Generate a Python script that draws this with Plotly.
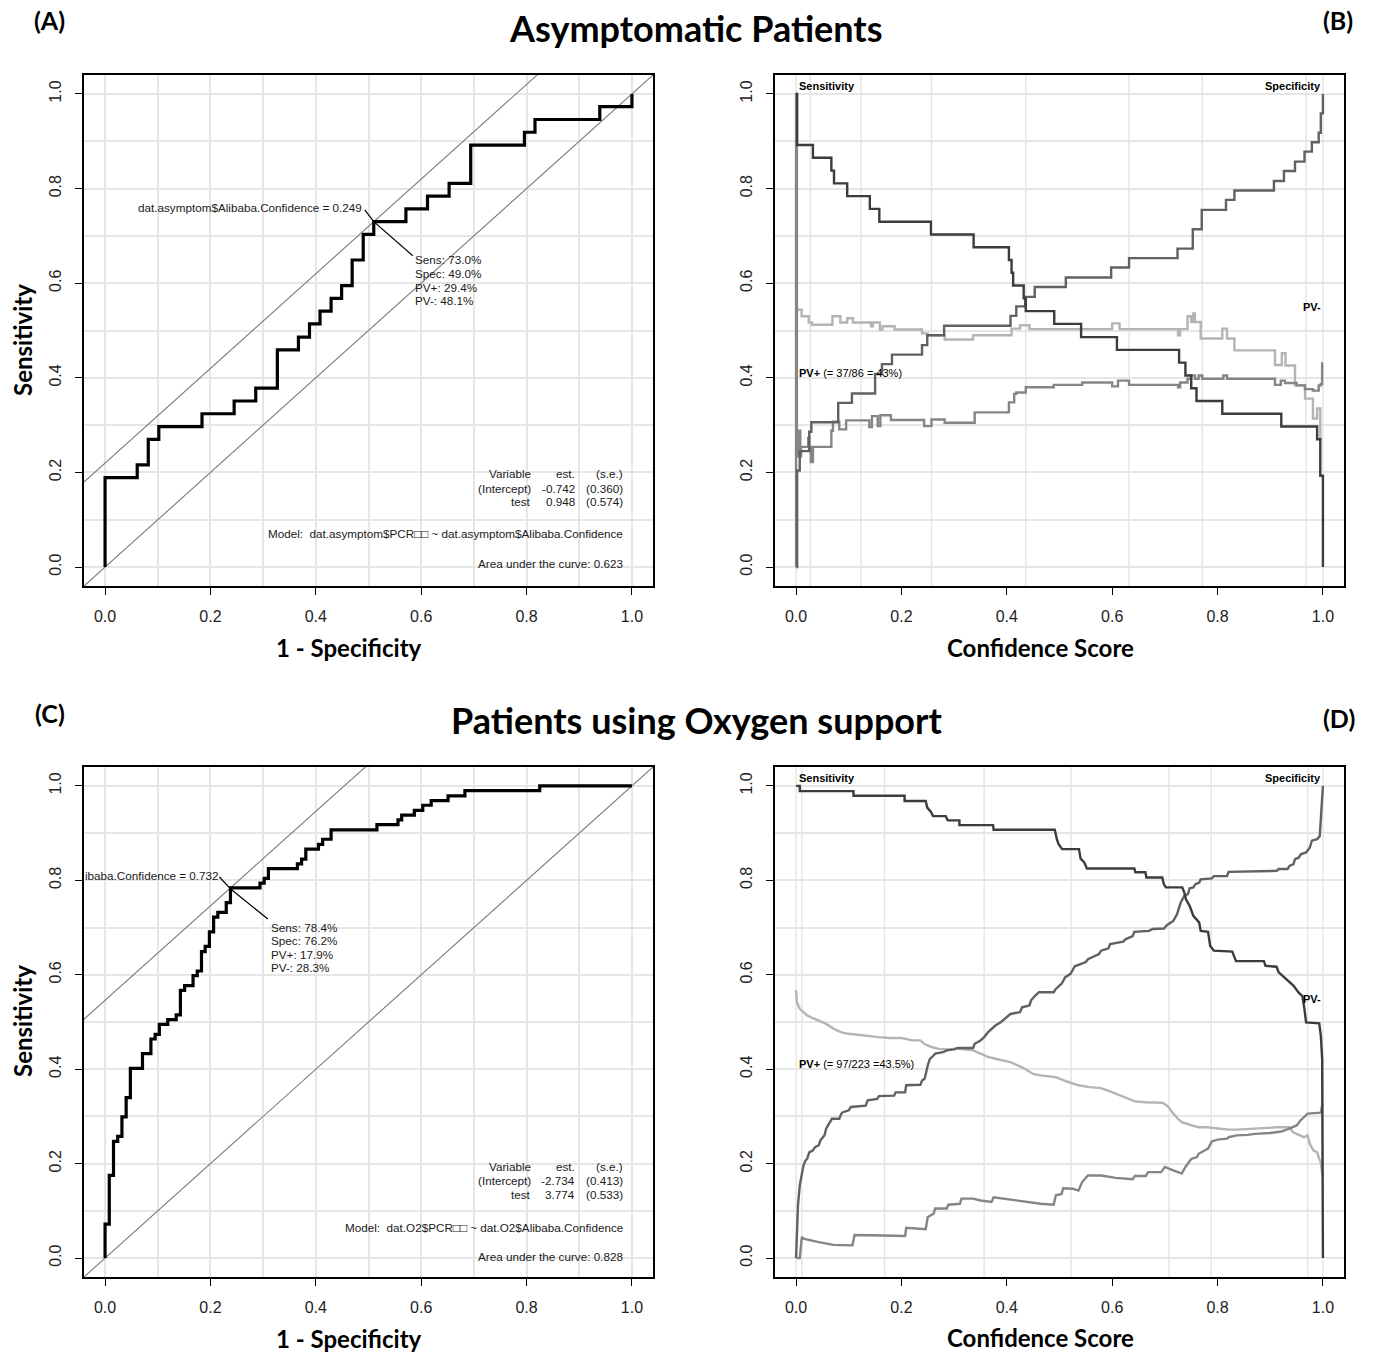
import plotly.graph_objects as go

W, H = 1374, 1354

# ---------------- data ----------------
# Panel A: ROC (1 - specificity, sensitivity), step vertices
roc_a_fpr = [0.000, 0.000, 0.061, 0.082, 0.102, 0.184, 0.245, 0.286, 0.327, 0.367, 0.388, 0.408, 0.429,
             0.449, 0.469, 0.490, 0.510, 0.571, 0.612, 0.653, 0.694, 0.796, 0.816, 0.939, 1.000]
roc_a_sens = [0.000, 0.189, 0.216, 0.270, 0.297, 0.324, 0.351, 0.378, 0.459, 0.486, 0.514, 0.541, 0.568,
              0.595, 0.649, 0.703, 0.730, 0.757, 0.784, 0.811, 0.892, 0.919, 0.946, 0.973, 1.000]
diag_a = [0.0, 0.22]
leader_a_x = [0.493, 0.510, 0.584]
leader_a_y = [0.755, 0.730, 0.658]

# Panel C: ROC
roc_c_fpr = [0.000, 0.000, 0.008, 0.008, 0.016, 0.024, 0.032, 0.040, 0.048, 0.071, 0.087, 0.095, 0.103,
             0.119, 0.135, 0.143, 0.151, 0.167, 0.175, 0.183, 0.190, 0.198, 0.206, 0.214, 0.230, 0.238,
             0.294, 0.302, 0.310, 0.365, 0.373, 0.381, 0.405, 0.413, 0.429, 0.516, 0.556, 0.563, 0.587,
             0.603, 0.619, 0.651, 0.683, 0.825, 1.000]
roc_c_sens = [0.000, 0.072, 0.093, 0.175, 0.247, 0.258, 0.299, 0.340, 0.402, 0.433, 0.464, 0.474, 0.495,
              0.505, 0.515, 0.567, 0.577, 0.598, 0.608, 0.649, 0.660, 0.691, 0.722, 0.732, 0.753, 0.784,
              0.794, 0.804, 0.825, 0.835, 0.845, 0.866, 0.876, 0.887, 0.907, 0.918, 0.928, 0.938, 0.948,
              0.959, 0.969, 0.979, 0.990, 1.000, 1.000]
diag_c = [0.0, 0.546]
leader_c_x = [0.217, 0.239, 0.309]
leader_c_y = [0.807, 0.781, 0.718]

# Panel B: curves vs confidence score (step: level starts)
sens_b_x = [0.000, 0.002, 0.032, 0.067, 0.072, 0.097, 0.140, 0.158, 0.256, 0.337, 0.404, 0.409, 0.412,
            0.432, 0.436, 0.490, 0.541, 0.609, 0.727, 0.739, 0.750, 0.760, 0.809, 0.921, 0.989, 0.995, 1.000]
sens_b_y = [1.000, 0.892, 0.865, 0.838, 0.811, 0.784, 0.757, 0.730, 0.703, 0.676, 0.649, 0.622, 0.595,
            0.568, 0.541, 0.514, 0.486, 0.459, 0.432, 0.405, 0.378, 0.351, 0.324, 0.297, 0.270, 0.193, 0.000]
spec_b_x = [0.000, 0.002, 0.007, 0.025, 0.029, 0.080, 0.106, 0.150, 0.163, 0.182, 0.239, 0.249, 0.281,
            0.407, 0.418, 0.435, 0.453, 0.512, 0.598, 0.632, 0.724, 0.753, 0.770, 0.816, 0.832, 0.907,
            0.926, 0.947, 0.965, 0.979, 0.992, 0.996, 1.000]
spec_b_y = [0.000, 0.204, 0.245, 0.286, 0.306, 0.347, 0.367, 0.408, 0.429, 0.449, 0.469, 0.490, 0.510,
            0.531, 0.551, 0.571, 0.592, 0.612, 0.633, 0.653, 0.673, 0.714, 0.755, 0.776, 0.796, 0.816,
            0.837, 0.857, 0.878, 0.898, 0.918, 0.959, 1.000]
pvp_b_x = [0.000, 0.000, 0.0015, 0.004, 0.006, 0.008, 0.0095, 0.023, 0.025, 0.028, 0.032, 0.067, 0.070,
           0.082, 0.095, 0.139, 0.144, 0.155, 0.160, 0.180, 0.243, 0.257, 0.282, 0.339, 0.404, 0.414,
           0.418, 0.436, 0.489, 0.543, 0.600, 0.611, 0.632, 0.725, 0.729, 0.743, 0.750, 0.757, 0.764,
           0.771, 0.811, 0.818, 0.909, 0.920, 0.928, 0.950, 0.966, 0.981, 0.992, 0.996, 0.9985]
pvp_b_y = [0.000, 1.000, 0.288, 0.234, 0.288, 0.234, 0.254, 0.273, 0.254, 0.222, 0.254, 0.288, 0.307,
           0.291, 0.310, 0.296, 0.319, 0.298, 0.321, 0.311, 0.298, 0.312, 0.305, 0.327, 0.348, 0.366,
           0.369, 0.380, 0.385, 0.390, 0.382, 0.394, 0.385, 0.380, 0.390, 0.398, 0.405, 0.398, 0.405,
           0.398, 0.405, 0.398, 0.385, 0.394, 0.389, 0.384, 0.376, 0.373, 0.384, 0.387, 0.433]
pvn_b_x = [0.0015, 0.0105, 0.024, 0.030, 0.069, 0.084, 0.097, 0.108, 0.142, 0.146, 0.159, 0.164, 0.187,
           0.239, 0.250, 0.282, 0.336, 0.409, 0.425, 0.443, 0.600, 0.614, 0.725, 0.729, 0.743, 0.750,
           0.754, 0.757, 0.768, 0.809, 0.818, 0.832, 0.909, 0.922, 0.929, 0.947, 0.966, 0.981, 0.989,
           0.995, 0.998]
pvn_b_y = [0.544, 0.530, 0.517, 0.512, 0.530, 0.517, 0.526, 0.517, 0.509, 0.517, 0.502, 0.509, 0.502,
           0.494, 0.490, 0.481, 0.490, 0.504, 0.511, 0.503, 0.515, 0.503, 0.490, 0.503, 0.530, 0.518,
           0.536, 0.518, 0.483, 0.504, 0.483, 0.458, 0.427, 0.452, 0.426, 0.384, 0.356, 0.314, 0.335,
           0.271, 0.271]
grid_b_x = [0.0, 0.027, 0.123, 0.257, 0.436, 0.632, 0.771, 0.968, 1.0]

# Panel D: curves vs confidence score (polyline vertices)
sens_d_x = [0.000, 0.007, 0.007, 0.109, 0.109, 0.206, 0.206, 0.246, 0.249, 0.256, 0.260, 0.284, 0.288,
            0.310, 0.310, 0.374, 0.375, 0.491, 0.495, 0.498, 0.505, 0.537, 0.540, 0.547, 0.552, 0.642,
            0.644, 0.663, 0.665, 0.695, 0.698, 0.702, 0.733, 0.737, 0.740, 0.747, 0.754, 0.765, 0.768,
            0.782, 0.786, 0.793, 0.828, 0.835, 0.888, 0.891, 0.912, 0.916, 0.923, 0.930, 0.937, 0.944,
            0.954, 0.961, 0.965, 0.968, 0.993, 0.996, 0.9986, 1.000]
sens_d_y = [1.000, 1.000, 0.989, 0.989, 0.979, 0.979, 0.968, 0.968, 0.954, 0.945, 0.936, 0.936, 0.927,
            0.927, 0.917, 0.917, 0.907, 0.907, 0.887, 0.877, 0.866, 0.866, 0.846, 0.838, 0.825, 0.825,
            0.817, 0.817, 0.806, 0.806, 0.792, 0.785, 0.785, 0.774, 0.760, 0.746, 0.725, 0.711, 0.693,
            0.691, 0.661, 0.651, 0.649, 0.629, 0.629, 0.619, 0.617, 0.605, 0.598, 0.591, 0.584, 0.577,
            0.562, 0.555, 0.527, 0.499, 0.497, 0.471, 0.421, 0.000]
spec_d_x = [0.000, 0.0014, 0.0036, 0.007, 0.0107, 0.014, 0.018, 0.021, 0.025, 0.032, 0.036, 0.043, 0.046,
            0.054, 0.057, 0.064, 0.068, 0.082, 0.086, 0.089, 0.100, 0.104, 0.132, 0.136, 0.154, 0.157,
            0.186, 0.189, 0.207, 0.209, 0.236, 0.239, 0.244, 0.250, 0.254, 0.261, 0.264, 0.279, 0.286,
            0.300, 0.307, 0.336, 0.339, 0.350, 0.357, 0.364, 0.371, 0.379, 0.389, 0.396, 0.404, 0.407,
            0.425, 0.429, 0.443, 0.446, 0.454, 0.461, 0.489, 0.493, 0.504, 0.511, 0.521, 0.529, 0.550,
            0.554, 0.575, 0.579, 0.593, 0.596, 0.621, 0.625, 0.639, 0.642, 0.670, 0.677, 0.698, 0.705,
            0.716, 0.723, 0.730, 0.737, 0.744, 0.747, 0.754, 0.758, 0.765, 0.768, 0.789, 0.793, 0.818,
            0.821, 0.912, 0.916, 0.933, 0.937, 0.944, 0.947, 0.954, 0.958, 0.968, 0.975, 0.979, 0.989,
            0.994, 0.996, 1.000]
spec_d_y = [0.000, 0.069, 0.112, 0.154, 0.175, 0.196, 0.207, 0.210, 0.224, 0.228, 0.235, 0.239, 0.249,
            0.260, 0.274, 0.288, 0.295, 0.295, 0.306, 0.309, 0.313, 0.320, 0.323, 0.334, 0.337, 0.343,
            0.344, 0.351, 0.351, 0.366, 0.367, 0.376, 0.380, 0.408, 0.422, 0.429, 0.433, 0.436, 0.440,
            0.442, 0.445, 0.445, 0.454, 0.461, 0.468, 0.478, 0.486, 0.493, 0.500, 0.507, 0.514, 0.517,
            0.521, 0.531, 0.535, 0.546, 0.556, 0.563, 0.563, 0.570, 0.581, 0.595, 0.602, 0.618, 0.627,
            0.633, 0.644, 0.651, 0.656, 0.665, 0.670, 0.675, 0.682, 0.691, 0.693, 0.697, 0.698, 0.706,
            0.714, 0.728, 0.753, 0.767, 0.771, 0.783, 0.785, 0.792, 0.795, 0.802, 0.804, 0.809, 0.809,
            0.818, 0.820, 0.824, 0.824, 0.831, 0.834, 0.845, 0.848, 0.855, 0.859, 0.869, 0.884, 0.887,
            0.894, 0.929, 1.000]
pvp_d_x = [0.0014, 0.007, 0.011, 0.014, 0.043, 0.071, 0.107, 0.111, 0.164, 0.207, 0.209, 0.246, 0.250,
           0.261, 0.264, 0.286, 0.289, 0.311, 0.314, 0.336, 0.350, 0.371, 0.375, 0.407, 0.436, 0.464,
           0.489, 0.493, 0.504, 0.507, 0.525, 0.536, 0.543, 0.554, 0.579, 0.607, 0.639, 0.643, 0.664,
           0.668, 0.693, 0.700, 0.711, 0.732, 0.739, 0.750, 0.761, 0.764, 0.782, 0.789, 0.800, 0.818,
           0.821, 0.836, 0.857, 0.871, 0.900, 0.921, 0.936, 0.950, 0.957, 0.971, 0.996, 0.999]
pvp_d_y = [0.000, 0.000, 0.045, 0.041, 0.034, 0.028, 0.027, 0.049, 0.048, 0.047, 0.064, 0.061, 0.087,
           0.094, 0.105, 0.105, 0.113, 0.115, 0.126, 0.126, 0.122, 0.119, 0.129, 0.124, 0.119, 0.115,
           0.113, 0.133, 0.136, 0.148, 0.147, 0.143, 0.161, 0.175, 0.175, 0.170, 0.167, 0.174, 0.174,
           0.182, 0.182, 0.193, 0.188, 0.179, 0.193, 0.210, 0.214, 0.221, 0.232, 0.247, 0.251, 0.253,
           0.256, 0.260, 0.261, 0.263, 0.265, 0.268, 0.274, 0.281, 0.291, 0.306, 0.308, 0.327]
pvn_d_x = [0.000, 0.0014, 0.007, 0.014, 0.021, 0.032, 0.043, 0.057, 0.071, 0.086, 0.100, 0.114, 0.136,
           0.157, 0.179, 0.200, 0.221, 0.236, 0.243, 0.257, 0.271, 0.289, 0.307, 0.321, 0.336, 0.350,
           0.364, 0.386, 0.407, 0.429, 0.450, 0.464, 0.493, 0.514, 0.536, 0.557, 0.579, 0.596, 0.621,
           0.643, 0.664, 0.679, 0.696, 0.707, 0.714, 0.725, 0.732, 0.743, 0.754, 0.764, 0.779, 0.793,
           0.821, 0.836, 0.864, 0.893, 0.914, 0.936, 0.943, 0.950, 0.964, 0.971, 0.975, 0.982, 0.989,
           0.993, 0.996, 0.999]
pvn_d_y = [0.567, 0.542, 0.528, 0.521, 0.514, 0.508, 0.503, 0.496, 0.486, 0.478, 0.475, 0.473, 0.471,
           0.468, 0.466, 0.466, 0.461, 0.461, 0.454, 0.447, 0.443, 0.442, 0.444, 0.442, 0.440, 0.433,
           0.426, 0.420, 0.415, 0.404, 0.390, 0.387, 0.383, 0.374, 0.366, 0.362, 0.360, 0.353, 0.342,
           0.332, 0.330, 0.329, 0.329, 0.320, 0.309, 0.295, 0.288, 0.284, 0.281, 0.277, 0.277, 0.275,
           0.272, 0.272, 0.274, 0.275, 0.277, 0.277, 0.267, 0.263, 0.256, 0.260, 0.242, 0.228, 0.224,
           0.210, 0.203, 0.175]
grid_d_x = [0.0, 0.011, 0.168, 0.357, 0.522, 0.708, 0.788, 0.971, 1.0]

tick_vals = [0.0, 0.2, 0.4, 0.6, 0.8, 1.0]
tick_text = ["0.0", "0.2", "0.4", "0.6", "0.8", "1.0"]

# ---------------- styling ----------------
C_SENS = "#3c3c3c"
C_SPEC = "#616161"
C_PVP = "#858585"
C_PVN = "#b4b4b4"
C_DIAG = "#7a7a7a"
GRID = "#e6e6e6"
TXT = "Liberation Sans, Arial, sans-serif"
TITLE_FONT = "Lato, Open Sans, sans-serif"
ANN_SIZE = 11.7

fig = go.Figure()


def px_x(p):
    return p / W


def px_y(p):
    return 1 - p / H


# domains from pixel boxes
dom_x_left = [px_x(84), px_x(653)]
dom_x_right = [px_x(775), px_x(1344)]
dom_y_top = [px_y(586), px_y(75)]
dom_y_bot = [px_y(1277), px_y(767)]

axes = {"": (dom_x_left, dom_y_top), "2": (dom_x_right, dom_y_top),
        "3": (dom_x_left, dom_y_bot), "4": (dom_x_right, dom_y_bot)}

for k, (dx, dy) in axes.items():
    xgrid = k in ("", "3")
    common = dict(range=[-0.04, 1.04], tickmode="array", tickvals=tick_vals, ticktext=tick_text,
                  ticks="outside", ticklen=7, tickwidth=1.3, tickcolor="black",
                  showline=True, linecolor="black", linewidth=1.5, mirror=True,
                  zeroline=False, gridcolor=GRID, gridwidth=1.5,
                  tickfont=dict(family=TXT, size=16, color="#222"), fixedrange=True)
    xa = dict(common, domain=dx, anchor="y" + k, showgrid=xgrid, ticklabelstandoff=8)
    if xgrid:
        xa["minor"] = dict(tickvals=[0.1, 0.3, 0.5, 0.7, 0.9], showgrid=True, gridcolor=GRID,
                           gridwidth=1.5, ticks="")
    ya = dict(common, domain=dy, anchor="x" + k, showgrid=True, tickangle=-90, ticklabelstandoff=8,
              minor=dict(tickvals=[0.1, 0.3, 0.5, 0.7, 0.9], showgrid=True, gridcolor=GRID,
                         gridwidth=1.5, ticks=""))
    fig.layout["xaxis" + k] = xa
    fig.layout["yaxis" + k] = ya

# vertical irregular grid in B and D
shapes = []
for gx in grid_b_x:
    shapes.append(dict(type="line", xref="x2", yref="y2 domain", x0=gx, x1=gx, y0=0, y1=1,
                       line=dict(color=GRID, width=1.5), layer="below"))
for gx in grid_d_x:
    shapes.append(dict(type="line", xref="x4", yref="y4 domain", x0=gx, x1=gx, y0=0, y1=1,
                       line=dict(color=GRID, width=1.5), layer="below"))
fig.update_layout(shapes=shapes)


def add_line(x, y, xa, ya, color, width, shape="linear"):
    fig.add_trace(go.Scatter(x=x, y=y, xaxis=xa, yaxis=ya, mode="lines",
                             line=dict(color=color, width=width, shape=shape),
                             hoverinfo="skip", showlegend=False))


# ---- Panel A ----
for b in diag_a:
    add_line([-0.1, 1.1], [-0.1 + b, 1.1 + b], "x", "y", C_DIAG, 1.1)
add_line(roc_a_fpr, roc_a_sens, "x", "y", "black", 3.2, "hv")
add_line(leader_a_x, leader_a_y, "x", "y", "black", 1.2)

# ---- Panel C ----
for b in diag_c:
    add_line([-0.1, 1.1], [-0.1 + b, 1.1 + b], "x3", "y3", C_DIAG, 1.1)
add_line(roc_c_fpr, roc_c_sens, "x3", "y3", "black", 3.2, "hv")
add_line(leader_c_x, leader_c_y, "x3", "y3", "black", 1.2)

# ---- Panel B ----
add_line(pvn_b_x, pvn_b_y, "x2", "y2", C_PVN, 2.4, "hv")
add_line(pvp_b_x, pvp_b_y, "x2", "y2", C_PVP, 2.4, "hv")
add_line(spec_b_x, spec_b_y, "x2", "y2", C_SPEC, 2.4, "hv")
add_line(sens_b_x, sens_b_y, "x2", "y2", C_SENS, 2.4, "hv")

# ---- Panel D ----
add_line(pvn_d_x, pvn_d_y, "x4", "y4", C_PVN, 2.4)
add_line(pvp_d_x, pvp_d_y, "x4", "y4", C_PVP, 2.4)
add_line(spec_d_x, spec_d_y, "x4", "y4", C_SPEC, 2.4)
add_line(sens_d_x, sens_d_y, "x4", "y4", C_SENS, 2.4)

ann = []


def txt(text, x, y, xref, yref, xanchor="left", size=ANN_SIZE, color="#1a1a1a", family=TXT,
        yanchor="middle", angle=0):
    ann.append(dict(text=text, x=x, y=y, xref=xref, yref=yref, xanchor=xanchor, yanchor=yanchor,
                    showarrow=False, textangle=angle, font=dict(family=family, size=size, color=color)))


NB = "\u00a0"
# Panel A texts
txt("dat.asymptom$Alibaba.Confidence = 0.249", 0.492, 0.760, "x", "y", "right")
for s, yy in zip(["Sens: 73.0%", "Spec: 49.0%", "PV+: 29.4%", "PV-: 48.1%"], [0.650, 0.620, 0.591, 0.563]):
    txt(s, 0.584, yy, "x", "y")
for col_x, col in zip([0.812, 0.896, 0.986], [["Variable", "(Intercept)", "test"],
                                              ["est.", "-0.742", "0.948"],
                                              ["(s.e.)", "(0.360)", "(0.574)"]]):
    for s, yy in zip(col, [0.197, 0.167, 0.138]):
        txt(s, col_x, yy, "x", "y", "right")
txt("Model:" + NB + NB + "dat.asymptom$PCR\u25a1\u25a1 ~ dat.asymptom$Alibaba.Confidence", 0.986, 0.070, "x", "y", "right")
txt("Area under the curve: 0.623", 0.986, 0.008, "x", "y", "right")

# Panel C texts
txt("ibaba.Confidence = 0.732", 0.220, 0.811, "x3", "y3", "right")
for s, yy in zip(["Sens: 78.4%", "Spec: 76.2%", "PV+: 17.9%", "PV-: 28.3%"], [0.701, 0.673, 0.643, 0.615]):
    txt(s, 0.312, yy, "x3", "y3")
for col_x, col in zip([0.812, 0.896, 0.986], [["Variable", "(Intercept)", "test"],
                                              ["est.", "-2.734", "3.774"],
                                              ["(s.e.)", "(0.413)", "(0.533)"]]):
    for s, yy in zip(col, [0.195, 0.164, 0.134]):
        txt(s, col_x, yy, "x3", "y3", "right")
txt("Model:" + NB + NB + "dat.O2$PCR\u25a1\u25a1 ~ dat.O2$Alibaba.Confidence", 0.986, 0.064, "x3", "y3", "right")
txt("Area under the curve: 0.828", 0.986, 0.004, "x3", "y3", "right")

# Panel B / D labels
for k, pv in (("2", "<b>PV+</b> (= 37/86 = 43%)"), ("4", "<b>PV+</b> (= 97/223 =43.5%)")):
    txt("<b>Sensitivity</b>", 0.002, 1.016, "x" + k, "y" + k, "left", 11, "black")
    txt("<b>Specificity</b>", 1.0, 1.016, "x" + k, "y" + k, "right", 11, "black")
    txt("<b>PV-</b>", 1.0, 0.549, "x" + k, "y" + k, "right", 11, "black")
    txt(pv, 0.002, 0.411, "x" + k, "y" + k, "left", 11, "black")


# Titles and axis titles (paper coordinates)
def ptxt(text, cx, cy, size, angle=0, family=TITLE_FONT):
    ann.append(dict(text=text, x=px_x(cx), y=px_y(cy), xref="paper", yref="paper", xanchor="center",
                    yanchor="middle", showarrow=False, textangle=angle,
                    font=dict(family=family, size=size, color="black")))


ptxt("<b>Asymptomatic Patients</b>", 696, 28, 36)
ptxt("<b>Patients using Oxygen support</b>", 696, 720, 36)
ptxt("<b>(A)</b>", 50, 20, 25)
ptxt("<b>(B)</b>", 1338, 20, 25)
ptxt("<b>(C)</b>", 50, 713, 25)
ptxt("<b>(D)</b>", 1339, 718, 25)
ptxt("<b>1 - Specificity</b>", 349, 648, 24)
ptxt("<b>1 - Specificity</b>", 349, 1338, 24)
ptxt("<b>Confidence Score</b>", 1040, 648, 24)
ptxt("<b>Confidence Score</b>", 1040, 1337, 24)
ptxt("<b>Sensitivity</b>", 22, 340, 24, -90)
ptxt("<b>Sensitivity</b>", 22, 1021, 24, -90)

fig.update_layout(annotations=ann, width=W, height=H, margin=dict(l=0, r=0, t=0, b=0),
                  paper_bgcolor="white", plot_bgcolor="white", showlegend=False)

fig.write_html("out.html", config={"displayModeBar": False})
